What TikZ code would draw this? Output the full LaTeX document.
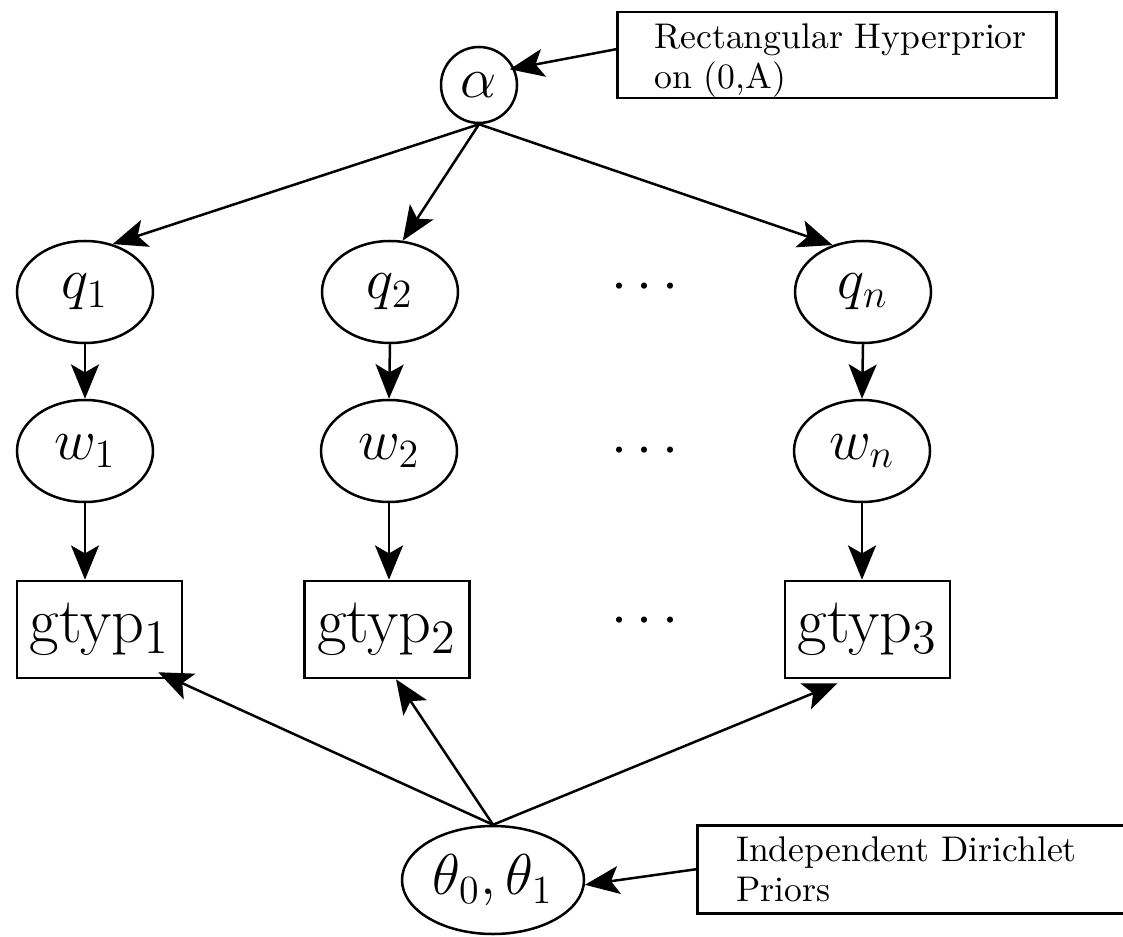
\documentclass[tikz,border=0pt]{standalone}
\usetikzlibrary{arrows.meta,shapes.geometric,calc}
\newcommand{\bigfnt}{\fontsize{18}{21.6}\selectfont}
\newcommand{\boxfnt}{\fontsize{19.3}{23}\selectfont}
\newcommand{\notefnt}{\fontsize{10.7}{12.2}\selectfont}
\begin{document}
\begin{tikzpicture}[x=0.3pt,y=-0.3pt,line width=0.75pt,
  var/.style={draw,ellipse,inner sep=0pt,minimum width=40.8pt,minimum height=30.6pt,font=\bigfnt},
  obs/.style={draw,rectangle,inner sep=0pt,minimum width=49.5pt,minimum height=29.1pt,font=\boxfnt},
  note/.style={draw,rectangle,inner sep=0pt,align=left,font=\notefnt,anchor=north west},
  dotsnode/.style={inner sep=0pt,font=\bigfnt},
  arr/.style={-{Stealth[length=10.3pt,width=8.4pt,inset=2.4pt]}}]
\useasboundingbox (0,0) rectangle (1123,936);

% hyperparameter
\node[draw,circle,inner sep=0pt,minimum size=22.8pt,font=\bigfnt] (alpha) at (479,85) {$\alpha$};
\node[note,text width=131.7pt,text height=10.8pt,text depth=15pt] (tb) at (616,11)
  {\hspace*{11.1pt}Rectangular Hyperprior\\\hspace*{11.1pt}on (0,A)};

% q row
\node[var] (q1) at (85,292) {$q_1$};
\node[var] (q2) at (390,292) {$q_2$};
\node[var] (qn) at (863,292) {$q_n$};
% w row
\node[var] (w1) at (85,451) {$w_1$};
\node[var] (w2) at (389,451) {$w_2$};
\node[var] (wn) at (862,451) {$w_n$};
% genotype boxes
\node[obs] (g1) at (99.5,629.5) {gtyp$_1$};
\node[obs] (g2) at (387,629.5) {gtyp$_2$};
\node[obs] (g3) at (867.5,629.5) {gtyp$_3$};
% dots
\node[dotsnode] (d1) at (645,288) {$\cdots$};
\node[dotsnode] (d2) at (645,452) {$\cdots$};
\node[dotsnode] (d3) at (645,622) {$\cdots$};
% theta
\node[draw,ellipse,inner sep=0pt,minimum width=54.6pt,minimum height=32.4pt,font=\bigfnt] (theta) at (493,880) {$\theta_0,\theta_1$};
\node[note,text width=134pt,text height=10.8pt,text depth=15.6pt] (bb) at (696,824)
  {\hspace*{11.7pt}Independent Dirichlet\\\hspace*{11.7pt}Priors};

% connectors
\draw[arr,shorten >=-1.5pt] ($(tb.west)+(0,-6)$) -- (alpha.25);
\draw[arr] (alpha.south) -- (q1.60);
\draw[arr] (alpha.south) -- (q2.76);
\draw[arr] (alpha.south) -- (qn.123);
\draw[arr] (q1.south) -- (w1.north);
\draw[arr] (q2.south) -- (w2.north);
\draw[arr] (qn.south) -- (wn.north);
\draw[arr] (w1.south) -- (w1.south |- g1.north);
\draw[arr] (w2.south) -- (w2.south |- g2.north);
\draw[arr] (wn.south) -- (wn.south |- g3.north);
\draw[arr] (theta.north) -- ($(g1.south east)+(-25,-7)$);
\draw[arr] (theta.north) -- ($(g2.south)+(9,0)$);
\draw[arr] (theta.north) -- ($(g3.south)+(-30,4)$);
\draw[arr] (bb.west) -- (theta.-3);
\end{tikzpicture}
\end{document}
